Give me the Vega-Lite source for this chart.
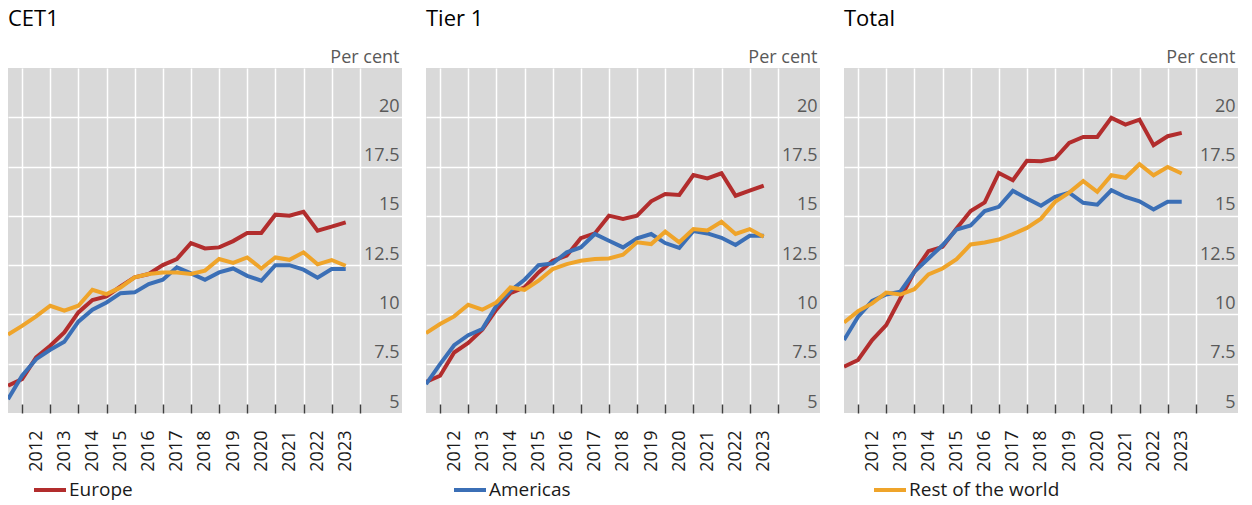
{
  "$schema": "https://vega.github.io/schema/vega-lite/v6.json",
  "padding": {"left": 8, "top": 8, "right": 0, "bottom": 30},
  "background": "white",
  "data": {"values": [
    {"panel":"CET1","t":2011.5,"Europe":6.38,"Americas":5.70,"Rest of the world":8.98},
    {"panel":"CET1","t":2012.0,"Europe":6.72,"Americas":6.89,"Rest of the world":9.42},
    {"panel":"CET1","t":2012.5,"Europe":7.82,"Americas":7.73,"Rest of the world":9.90},
    {"panel":"CET1","t":2013.0,"Europe":8.41,"Americas":8.21,"Rest of the world":10.44},
    {"panel":"CET1","t":2013.5,"Europe":9.09,"Americas":8.61,"Rest of the world":10.19},
    {"panel":"CET1","t":2014.0,"Europe":10.10,"Americas":9.63,"Rest of the world":10.44},
    {"panel":"CET1","t":2014.5,"Europe":10.73,"Americas":10.24,"Rest of the world":11.25},
    {"panel":"CET1","t":2015.0,"Europe":10.91,"Americas":10.61,"Rest of the world":11.03},
    {"panel":"CET1","t":2015.5,"Europe":11.42,"Americas":11.08,"Rest of the world":11.37},
    {"panel":"CET1","t":2016.0,"Europe":11.88,"Americas":11.12,"Rest of the world":11.88},
    {"panel":"CET1","t":2016.5,"Europe":12.05,"Americas":11.54,"Rest of the world":12.05},
    {"panel":"CET1","t":2017.0,"Europe":12.50,"Americas":11.76,"Rest of the world":12.13},
    {"panel":"CET1","t":2017.5,"Europe":12.81,"Americas":12.39,"Rest of the world":12.13},
    {"panel":"CET1","t":2018.0,"Europe":13.62,"Americas":12.08,"Rest of the world":12.05},
    {"panel":"CET1","t":2018.5,"Europe":13.35,"Americas":11.76,"Rest of the world":12.22},
    {"panel":"CET1","t":2019.0,"Europe":13.40,"Americas":12.13,"Rest of the world":12.81},
    {"panel":"CET1","t":2019.5,"Europe":13.72,"Americas":12.33,"Rest of the world":12.61},
    {"panel":"CET1","t":2020.0,"Europe":14.13,"Americas":11.96,"Rest of the world":12.89},
    {"panel":"CET1","t":2020.5,"Europe":14.13,"Americas":11.71,"Rest of the world":12.33},
    {"panel":"CET1","t":2021.0,"Europe":15.06,"Americas":12.50,"Rest of the world":12.89},
    {"panel":"CET1","t":2021.5,"Europe":15.01,"Americas":12.50,"Rest of the world":12.77},
    {"panel":"CET1","t":2022.0,"Europe":15.21,"Americas":12.27,"Rest of the world":13.15},
    {"panel":"CET1","t":2022.5,"Europe":14.25,"Americas":11.86,"Rest of the world":12.54},
    {"panel":"CET1","t":2023.0,"Europe":14.45,"Americas":12.30,"Rest of the world":12.76},
    {"panel":"CET1","t":2023.5,"Europe":14.67,"Americas":12.30,"Rest of the world":12.47},
    {"panel":"Tier 1","t":2011.5,"Europe":6.58,"Americas":6.46,"Rest of the world":9.05},
    {"panel":"Tier 1","t":2012.0,"Europe":6.89,"Americas":7.48,"Rest of the world":9.51},
    {"panel":"Tier 1","t":2012.5,"Europe":8.07,"Americas":8.44,"Rest of the world":9.90},
    {"panel":"Tier 1","t":2013.0,"Europe":8.55,"Americas":8.95,"Rest of the world":10.49},
    {"panel":"Tier 1","t":2013.5,"Europe":9.22,"Americas":9.26,"Rest of the world":10.24},
    {"panel":"Tier 1","t":2014.0,"Europe":10.24,"Americas":10.44,"Rest of the world":10.61},
    {"panel":"Tier 1","t":2014.5,"Europe":11.08,"Americas":11.20,"Rest of the world":11.37},
    {"panel":"Tier 1","t":2015.0,"Europe":11.37,"Americas":11.76,"Rest of the world":11.25},
    {"panel":"Tier 1","t":2015.5,"Europe":12.13,"Americas":12.50,"Rest of the world":11.71},
    {"panel":"Tier 1","t":2016.0,"Europe":12.72,"Americas":12.59,"Rest of the world":12.30},
    {"panel":"Tier 1","t":2016.5,"Europe":12.98,"Americas":13.15,"Rest of the world":12.55},
    {"panel":"Tier 1","t":2017.0,"Europe":13.87,"Americas":13.40,"Rest of the world":12.72},
    {"panel":"Tier 1","t":2017.5,"Europe":14.11,"Americas":14.08,"Rest of the world":12.81},
    {"panel":"Tier 1","t":2018.0,"Europe":15.01,"Americas":13.74,"Rest of the world":12.84},
    {"panel":"Tier 1","t":2018.5,"Europe":14.84,"Americas":13.40,"Rest of the world":13.03},
    {"panel":"Tier 1","t":2019.0,"Europe":15.01,"Americas":13.86,"Rest of the world":13.66},
    {"panel":"Tier 1","t":2019.5,"Europe":15.74,"Americas":14.08,"Rest of the world":13.57},
    {"panel":"Tier 1","t":2020.0,"Europe":16.11,"Americas":13.62,"Rest of the world":14.20},
    {"panel":"Tier 1","t":2020.5,"Europe":16.06,"Americas":13.37,"Rest of the world":13.66},
    {"panel":"Tier 1","t":2021.0,"Europe":17.07,"Americas":14.23,"Rest of the world":14.33},
    {"panel":"Tier 1","t":2021.5,"Europe":16.90,"Americas":14.11,"Rest of the world":14.26},
    {"panel":"Tier 1","t":2022.0,"Europe":17.16,"Americas":13.89,"Rest of the world":14.70},
    {"panel":"Tier 1","t":2022.5,"Europe":16.02,"Americas":13.52,"Rest of the world":14.08},
    {"panel":"Tier 1","t":2023.0,"Europe":16.28,"Americas":13.99,"Rest of the world":14.33},
    {"panel":"Tier 1","t":2023.5,"Europe":16.53,"Americas":13.99,"Rest of the world":13.94},
    {"panel":"Total","t":2011.5,"Europe":7.35,"Americas":8.70,"Rest of the world":9.59},
    {"panel":"Total","t":2012.0,"Europe":7.69,"Americas":9.88,"Rest of the world":10.17},
    {"panel":"Total","t":2012.5,"Europe":8.70,"Americas":10.69,"Rest of the world":10.56},
    {"panel":"Total","t":2013.0,"Europe":9.46,"Americas":11.01,"Rest of the world":11.11},
    {"panel":"Total","t":2013.5,"Europe":10.81,"Americas":11.15,"Rest of the world":11.01},
    {"panel":"Total","t":2014.0,"Europe":12.16,"Americas":12.16,"Rest of the world":11.28},
    {"panel":"Total","t":2014.5,"Europe":13.21,"Americas":12.84,"Rest of the world":12.03},
    {"panel":"Total","t":2015.0,"Europe":13.43,"Americas":13.51,"Rest of the world":12.33},
    {"panel":"Total","t":2015.5,"Europe":14.36,"Americas":14.31,"Rest of the world":12.80},
    {"panel":"Total","t":2016.0,"Europe":15.25,"Americas":14.51,"Rest of the world":13.55},
    {"panel":"Total","t":2016.5,"Europe":15.68,"Americas":15.24,"Rest of the world":13.65},
    {"panel":"Total","t":2017.0,"Europe":17.18,"Americas":15.46,"Rest of the world":13.80},
    {"panel":"Total","t":2017.5,"Europe":16.81,"Americas":16.27,"Rest of the world":14.07},
    {"panel":"Total","t":2018.0,"Europe":17.79,"Americas":15.88,"Rest of the world":14.39},
    {"panel":"Total","t":2018.5,"Europe":17.77,"Americas":15.51,"Rest of the world":14.86},
    {"panel":"Total","t":2019.0,"Europe":17.91,"Americas":15.96,"Rest of the world":15.71},
    {"panel":"Total","t":2019.5,"Europe":18.70,"Americas":16.18,"Rest of the world":16.18},
    {"panel":"Total","t":2020.0,"Europe":19.00,"Americas":15.66,"Rest of the world":16.76},
    {"panel":"Total","t":2020.5,"Europe":19.00,"Americas":15.57,"Rest of the world":16.22},
    {"panel":"Total","t":2021.0,"Europe":19.97,"Americas":16.30,"Rest of the world":17.06},
    {"panel":"Total","t":2021.5,"Europe":19.63,"Americas":15.96,"Rest of the world":16.93},
    {"panel":"Total","t":2022.0,"Europe":19.88,"Americas":15.74,"Rest of the world":17.62},
    {"panel":"Total","t":2022.5,"Europe":18.58,"Americas":15.32,"Rest of the world":17.06},
    {"panel":"Total","t":2023.0,"Europe":19.04,"Americas":15.71,"Rest of the world":17.48},
    {"panel":"Total","t":2023.5,"Europe":19.21,"Americas":15.71,"Rest of the world":17.15}
  ]},
  "transform": [{"fold": ["Europe", "Americas", "Rest of the world"], "as": ["series", "value"]}],
  "facet": {
    "column": {
      "field": "panel", "type": "nominal", "sort": ["CET1", "Tier 1", "Total"],
      "header": {"title": null, "labelAnchor": "start", "labelAlign": "left", "labelFontSize": 22, "labelFont": "Open Sans", "labelColor": "#000000", "labelPadding": 17}
    }
  },
  "spacing": 24,
  "resolve": {"scale": {"x": "independent", "y": "independent"}},
  "spec": {
    "width": 394,
    "height": 345,
    "mark": {"type": "line", "strokeWidth": 4, "clip": true},
    "encoding": {
      "x": {
        "field": "t", "type": "quantitative",
        "scale": {"domain": [2011.5, 2025.5], "nice": false, "zero": false},
        "axis": {
          "values": [2012, 2013, 2014, 2015, 2016, 2017, 2018, 2019, 2020, 2021, 2022, 2023, 2024],
          "title": null, "grid": true, "gridColor": "#ffffff", "gridWidth": 1.5,
          "tickSize": -9, "tickColor": "#404040", "tickWidth": 1.5, "domain": false,
          "labelAngle": -90, "labelOffset": 14, "labelPadding": 26, "labelFontSize": 18,
          "labelFont": "Open Sans", "labelColor": "#1a1a1a", "labelFlush": false, "labelOverlap": false,
          "labelExpr": "datum.value < 2024 ? '' + datum.value : ''"
        }
      },
      "y": {
        "field": "value", "type": "quantitative",
        "scale": {"domain": [5, 22.5], "nice": false, "zero": false},
        "axis": {
          "orient": "right", "values": [5, 7.5, 10, 12.5, 15, 17.5, 20],
          "grid": true, "gridColor": "#ffffff", "gridWidth": 1.5,
          "gridOpacity": {"condition": {"test": "datum.value === 5", "value": 0}, "value": 1},
          "ticks": false, "domain": false,
          "labelExpr": "'' + datum.value",
          "labelAlign": "right", "labelBaseline": "alphabetic", "labelOffset": -6, "labelPadding": -3,
          "labelFontSize": 18, "labelFont": "Open Sans", "labelColor": "#595959", "labelFlush": false,
          "title": "Per cent", "titleAngle": 0, "titleAlign": "right", "titleBaseline": "alphabetic",
          "titleX": -3, "titleY": -6, "titleFontSize": 18, "titleFontWeight": "normal",
          "titleFont": "Open Sans", "titleColor": "#595959"
        }
      },
      "color": {
        "field": "series", "type": "nominal",
        "scale": {"domain": ["Europe", "Americas", "Rest of the world"], "range": ["#b22d2d", "#3b6fb6", "#efa42a"]},
        "legend": {
          "title": null, "orient": "none", "legendX": 24, "legendY": 404, "direction": "horizontal",
          "columns": 3, "gridAlign": "all", "columnPadding": 226, "padding": 0,
          "symbolType": "stroke", "symbolSize": 1024, "symbolStrokeWidth": 4,
          "labelFontSize": 19, "labelFont": "Open Sans", "labelColor": "#1a1a1a", "labelOffset": 1
        }
      }
    }
  },
  "config": {"view": {"fill": "#d9d9d9", "stroke": null}, "font": "Open Sans"}
}
